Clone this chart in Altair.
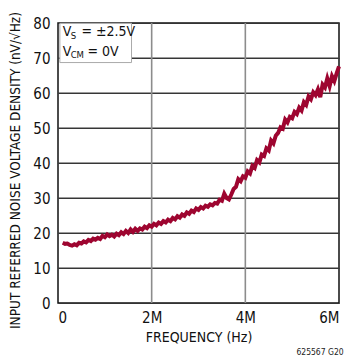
import altair as alt
import pandas as pd

freq_start = 0.10
freq_step = 0.05
noise = [
    17.2, 16.9, 17.0, 16.6, 16.4, 16.8, 16.5, 17.2, 17.0, 17.6,
    17.3, 18.0, 17.7, 18.4, 18.1, 18.6, 18.3, 19.2, 18.8, 19.6,
    19.1, 19.5, 19.0, 19.8, 19.4, 20.2, 19.7, 20.6, 20.0, 21.0,
    20.3, 21.2, 20.6, 21.3, 21.0, 21.8, 21.4, 22.2, 21.8, 22.6,
    22.2, 23.0, 22.6, 23.4, 23.0, 23.8, 23.4, 24.3, 23.9, 24.8,
    24.4, 25.3, 24.9, 25.9, 25.5, 26.4, 26.0, 27.0, 26.6, 27.4,
    27.0, 27.8, 27.5, 28.2, 27.9, 28.6, 28.4, 29.5, 29.2, 31.2,
    30.0, 29.6, 31.0, 32.6, 33.2, 35.4, 34.8, 36.2, 35.8, 37.6,
    37.0, 39.2, 38.6, 40.8, 40.2, 42.4, 42.0, 44.2, 43.6, 46.4,
    45.6, 47.8, 48.6, 50.2, 49.8, 52.4, 51.6, 53.2, 52.8, 54.6,
    54.0, 55.8, 55.0, 57.4, 56.6, 59.0, 58.2, 60.2, 59.4, 61.0,
    58.8, 62.4, 61.6, 64.2, 62.0, 64.8, 63.4, 65.6, 67.6,
]
freq = [round(freq_start + i * freq_step, 2) for i in range(len(noise))]

x_ticks = [0, 2, 4, 6]
y_ticks = [0, 10, 20, 30, 40, 50, 60, 70, 80]
x_grid = [2, 4]
y_grid = [10, 20, 30, 40, 50, 60, 70]

FONT = "DejaVu Sans Condensed, Liberation Sans Narrow, Liberation Sans, sans-serif"
LINE_COLOR = "#9E0530"

df = pd.DataFrame({"f": freq, "v": noise})

x_scale = alt.Scale(domain=[0, 6], nice=False, zero=False)
y_scale = alt.Scale(domain=[0, 80], nice=False)

x_axis = alt.Axis(
    values=x_ticks, grid=False,
    ticks=False, domain=False, labelOverlap=False,
    labelExpr="datum.value == 0 ? '0' : datum.value + 'M'",
    labelFont=FONT, labelFontSize=15, labelColor="#111111", labelPadding=7,
    title="FREQUENCY (Hz)", titleFont=FONT, titleFontSize=14,
    titleFontWeight="normal", titleColor="#111111",
    titleX=140.5, titleY=34, titleBaseline="middle", titleAlign="center",
)
y_axis = alt.Axis(
    values=y_ticks, tickCount=9, grid=True, gridColor="#333333", gridWidth=1,
    ticks=False, domain=False, labelOverlap=False,
    labelFont=FONT, labelFontSize=15, labelColor="#111111", labelPadding=8,
    title="INPUT REFERRED NOISE VOLTAGE DENSITY (nV/√Hz)",
    titleFont=FONT, titleFontSize=13.5, titleFontWeight="normal",
    titleColor="#111111", titleAngle=-90, titleX=-43, titleY=147,
    titleBaseline="middle", titleAlign="center",
)

X = lambda fld="f": alt.X(f"{fld}:Q", scale=x_scale, axis=x_axis)
Y = lambda fld="v": alt.Y(f"{fld}:Q", scale=y_scale, axis=y_axis)

# horizontal grid drawn as thin filled bands (about 1.2 px tall)
half = 0.17
grid_h = pd.DataFrame({
    "v": [g - half for g in y_grid],
    "v2": [g + half for g in y_grid],
    "f": [0] * len(y_grid),
    "f2": [6] * len(y_grid),
})
grid_v = pd.DataFrame({"f": x_grid, "v": [0] * len(x_grid), "v2": [80] * len(x_grid)})

hgrid = alt.Chart(grid_h).mark_rect(fill="#3a3a3a", strokeWidth=0).encode(
    x=X(), x2="f2:Q", y=Y(), y2="v2:Q")
vgrid = alt.Chart(grid_v).mark_rule(color="#8c8c8c", strokeWidth=1.6).encode(
    x=X(), y=Y(), y2="v2:Q")

line = alt.Chart(df).mark_line(
    color=LINE_COLOR, strokeWidth=4, strokeJoin="miter", strokeCap="butt"
).encode(x=X(), y=Y())

# legend box
box_df = pd.DataFrame({"f": [0.04], "f2": [1.57], "v": [68.7], "v2": [79.9]})
box = alt.Chart(box_df).mark_rect(
    fill="white", stroke="#aaaaaa", strokeWidth=1
).encode(x=X(), x2="f2:Q", y=Y(), y2="v2:Q")

main_lbl = pd.DataFrame({"f": [0.10, 0.10], "v": [77.3, 71.8], "t": ["V", "V"]})
sub_lbl = pd.DataFrame({"f": [0.27, 0.27], "v": [76.3, 70.8], "t": ["S", "CM"]})
rest_lbl = pd.DataFrame({"f": [0.50, 0.63], "v": [77.3, 71.8], "t": ["= ±2.5V", "= 0V"]})

def txt(d, size):
    return alt.Chart(d).mark_text(
        align="left", baseline="middle", font=FONT, fontSize=size, color="#111111"
    ).encode(x=X(), y=Y(), text="t:N")

note = alt.Chart(pd.DataFrame({"f": [6.1], "v": [-14.0], "t": ["625567 G20"]})).mark_text(
    align="right", baseline="middle", font=FONT, fontSize=8.5, color="#222222"
).encode(x=X(), y=Y(), text="t:N")

chart = alt.layer(
    hgrid, vgrid, line, box, txt(main_lbl, 14), txt(sub_lbl, 9.5), txt(rest_lbl, 14), note
).properties(
    width=281, height=280,
    autosize=alt.AutoSizeParams(type="none"),
    padding={"left": 58, "top": 23, "right": 7, "bottom": 57},
    background="white",
).configure_view(stroke="#111111", strokeWidth=1.5)

chart.save("out.html", embed_options={"renderer": "svg", "actions": False})
